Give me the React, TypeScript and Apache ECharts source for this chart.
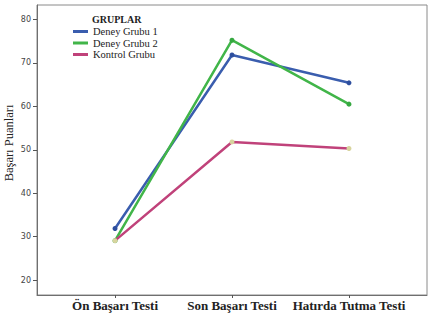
import React, { useEffect, useRef } from "react";
import * as echarts from "echarts";

const categories = ["Ön Başarı Testi", "Son Başarı Testi", "Hatırda Tutma Testi"];
const seriesNames = ["Deney Grubu 1", "Deney Grubu 2", "Kontrol Grubu"];
const deney1 = [31.9, 71.8, 65.4];
const deney2 = [29.1, 75.2, 60.5];
const kontrol = [29.1, 51.8, 50.3];
const yTicks = [20, 30, 40, 50, 60, 70, 80];
const legendTitle = "GRUPLAR";
const yAxisTitle = "Başarı Puanları";

const lineColors = ["#3a5dae", "#41b549", "#c0427a"];
const markerColors = ["#2d4e9e", "#35a840", "#d8d49e"];

export default function App() {
  const ref = useRef<HTMLDivElement>(null);
  useEffect(() => {
    if (!ref.current) return;
    const chart = echarts.init(ref.current, undefined, { renderer: "svg" });
    const allData = [deney1, deney2, kontrol];
    const serif = "'Liberation Serif', 'DejaVu Serif', serif";
    chart.setOption({
      animation: false,
      backgroundColor: "#ffffff",
      grid: {
        left: 37,
        right: 4,
        top: 5,
        bottom: 18,
        show: true,
        borderColor: "#8a8a8a",
        borderWidth: 1,
      },
      legend: {
        orient: "vertical",
        left: 73,
        top: 26,
        padding: 0,
        itemWidth: 15,
        itemHeight: 3,
        itemGap: 0.5,
        icon: "rect",
        data: seriesNames.map((n, i) => ({
          name: n,
          itemStyle: { color: lineColors[i] },
        })),
        textStyle: { fontFamily: serif, fontSize: 10.5, lineHeight: 10, color: "#222" },
      },
      graphic: [
        {
          type: "text",
          left: 92,
          top: 14,
          style: {
            text: legendTitle,
            font: `bold 10px ${serif}`,
            fill: "#222",
          },
        },
        {
          type: "text",
          x: 9,
          y: 143,
          rotation: Math.PI / 2,
          style: {
            text: yAxisTitle,
            font: `12.5px ${serif}`,
            fill: "#222",
            textAlign: "center",
            textVerticalAlign: "middle",
          },
        },
      ],
      xAxis: {
        type: "value",
        min: -0.667,
        max: 2.667,
        splitLine: { show: false },
        axisLine: { show: true, onZero: false, lineStyle: { color: "#6f6f6f", width: 1 } },
        axisTick: {
          show: true,
          length: 3,
          customValues: [0, 1, 2],
          lineStyle: { color: "#555" },
        },
        axisLabel: {
          customValues: [0, 1, 2],
          formatter: (v: number) => categories[Math.round(v)] ?? "",
          fontFamily: serif,
          fontWeight: "bold",
          fontSize: 13,
          color: "#222",
          margin: 4,
        },
      },
      yAxis: {
        type: "value",
        min: 16.6,
        max: 83.3,
        splitLine: { show: false },
        axisLine: { show: true, onZero: false, lineStyle: { color: "#6f6f6f", width: 1 } },
        axisTick: {
          show: true,
          length: 4,
          customValues: yTicks,
          lineStyle: { color: "#555" },
        },
        axisLabel: {
          customValues: yTicks,
          fontFamily: "DejaVu Sans",
          fontSize: 8,
          color: "#444",
          margin: 6,
        },
      },
      series: allData.map((d, i) => ({
        name: seriesNames[i],
        type: "line",
        data: d.map((v, j) => [j, v]),
        symbol: "circle",
        symbolSize: 5,
        lineStyle: { color: lineColors[i], width: 2.5 },
        itemStyle: { color: markerColors[i] },
        color: lineColors[i],
        z: 2 + i,
      })),
    });
    return () => chart.dispose();
  }, []);
  return (
    <div
      ref={ref}
      style={{ position: "absolute", left: 0, top: 0, width: 431, height: 313 }}
    />
  );
}
